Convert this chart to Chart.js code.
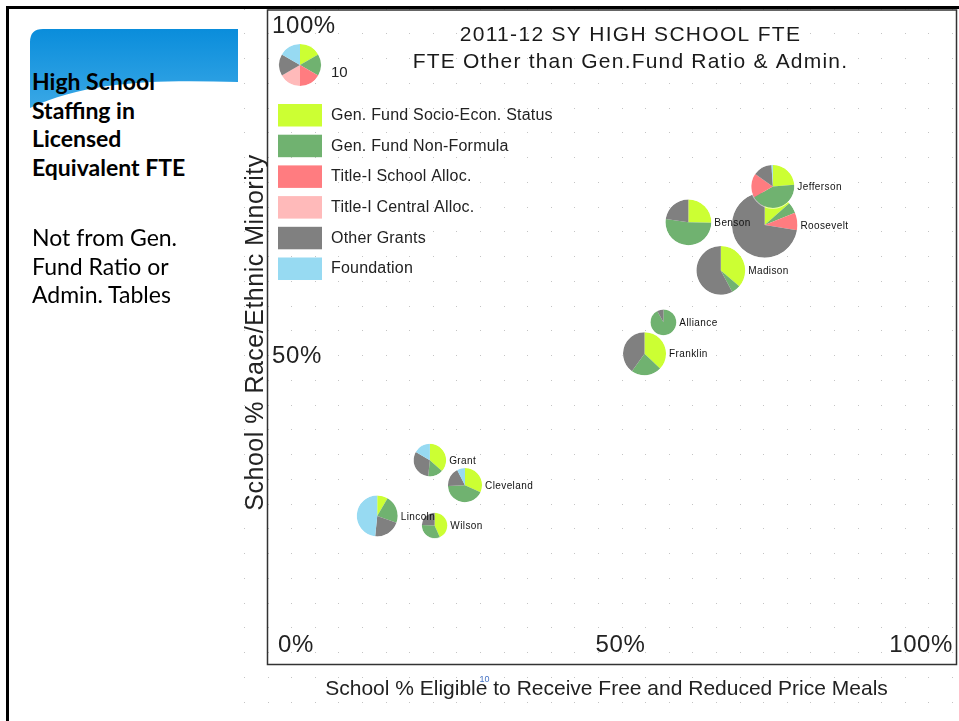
<!DOCTYPE html>
<html>
<head>
<meta charset="utf-8">
<script src="https://cdn.jsdelivr.net/npm/chart.js@4.4.0/dist/chart.umd.min.js"></script>
<style>
  html, body { margin: 0; padding: 0; background: #fff; }
  body { width: 959px; height: 721px; position: relative; overflow: hidden; }
  #chart { position: absolute; left: 0; top: 0; }
  #frame { position: absolute; left: 6px; top: 6px; width: 980px; height: 740px;
           border-left: 3px solid #000; border-top: 3px solid #000; }
  #panel { position: absolute; left: 9px; top: 9px; width: 231px; height: 712px; background: #fff; }
  #banner { position: absolute; left: 0; top: 0; }
  .side { position: absolute; left: 32px; font-family: Lato, "Open Sans", sans-serif;
          font-size: 23px; line-height: 28.7px; color: #000; }
  #heading { top: 67px; font-weight: bold; }
  #note { top: 223px; }
</style>
</head>
<body>
<canvas id="chart" width="959" height="721"></canvas>
<div id="panel"></div>
<svg id="banner" width="240" height="120">
  <defs>
    <linearGradient id="bg" x1="0" y1="0" x2="0" y2="1">
      <stop offset="0" stop-color="#0a8ddb"/>
      <stop offset="1" stop-color="#3aa8e6"/>
    </linearGradient>
  </defs>
  <path d="M30,42 Q30,29 43,29 L238,29 L238,82 C160,80 90,80 30,108 Z" fill="url(#bg)"/>
</svg>
<div id="heading" class="side">High School<br>Staffing in<br>Licensed<br>Equivalent FTE</div>
<div id="note" class="side">Not from Gen.<br>Fund Ratio or<br>Admin. Tables</div>
<div id="frame"></div>
<script>
// schools, in drawing order (Jefferson sits on top of Roosevelt)
const schools = ['Lincoln', 'Wilson', 'Grant', 'Cleveland', 'Franklin', 'Alliance', 'Madison', 'Benson', 'Roosevelt', 'Jefferson'];
// school % eligible for free/reduced meals (x) and % race/ethnic minority (y)
const frlPct = [14.7, 23.2, 22.5, 27.7, 54.3, 57.1, 65.6, 60.8, 72.1, 73.3];
const minorityPct = [21.7, 20.2, 30.4, 26.5, 47.0, 51.9, 60.0, 67.5, 67.1, 73.1];

// FTE by funding source
const fundSources = ['Gen. Fund Socio-Econ. Status', 'Gen. Fund Non-Formula', 'Title-I School Alloc.',
                     'Title-I Central Alloc.', 'Other Grants', 'Foundation'];
const fteSocioEcon    = [0.8, 1.6, 2.2, 2.1, 3.9, 0.0, 4.9, 3.0, 3.3, 2.5];
const fteNonFormula   = [2.1, 1.2, 0.9, 2.8, 2.4, 3.5, 0.8, 6.2, 1.3, 4.5];
const fteTitleISchool = [0.0, 0.0, 0.0, 0.0, 0.0, 0.0, 0.0, 0.0, 2.1, 1.9];
const fteTitleICentral = [0.0, 0.0, 0.0, 0.0, 0.0, 0.0, 0.0, 0.0, 0.0, 0.0];
const fteOtherGrants  = [2.0, 0.9, 1.9, 1.2, 4.2, 0.3, 7.8, 2.7, 17.6, 1.5];
const fteFoundation   = [4.6, 0.0, 1.0, 0.5, 0.0, 0.0, 0.0, 0.0, 0.0, 0.1];

const xTickValues = [0, 50, 100];
const xTickLabels = ['0%', '50%', '100%'];
const yTickValues = [50, 100];
const yTickLabels = ['50%', '100%'];
const keyFte = 10;

const series = [fteSocioEcon, fteNonFormula, fteTitleISchool, fteTitleICentral, fteOtherGrants, fteFoundation];
const colors = ['#ccff33', '#70b270', '#ff7c80', '#ffbaba', '#808080', '#97daf2'];
const totals = schools.map((s, i) => series.reduce((a, arr) => a + arr[i], 0));
const pxPerSqrtFte = 21 / Math.sqrt(10);

const FONT = '"Liberation Sans", Arial, sans-serif';

function drawPie(ctx, cx, cy, r, values) {
    const total = values.reduce((a, b) => a + b, 0);
    let a = -Math.PI / 2;
    values.forEach((v, k) => {
        if (!v) return;
        const da = v / total * Math.PI * 2;
        ctx.beginPath();
        ctx.moveTo(cx, cy);
        ctx.arc(cx, cy, r, a, a + da);
        ctx.closePath();
        ctx.fillStyle = colors[k];
        ctx.fill();
        a += da;
    });
    ctx.beginPath();
    ctx.arc(cx, cy, r + 0.5, 0, Math.PI * 2);
    ctx.strokeStyle = 'rgba(255,255,255,0.6)';
    ctx.lineWidth = 1;
    ctx.stroke();
}

function text(ctx, str, x, y, font, align, baseline, color, spacing) {
    ctx.font = font;
    ctx.textAlign = align;
    ctx.textBaseline = baseline;
    ctx.fillStyle = color || '#222';
    ctx.letterSpacing = (spacing || 0) + 'px';
    ctx.fillText(str, x, y);
    ctx.letterSpacing = '0px';
}

const piePlugin = {
    id: 'pieScatter',
    beforeDraw(chart) {
        // dotted slide grid
        const ctx = chart.ctx;
        ctx.save();
        ctx.fillStyle = '#c4c4c4';
        for (let x = 244; x < 959; x += 23.6) {
            for (let y = 8.5; y < 721; y += 24.75) {
                ctx.fillRect(Math.round(x), Math.round(y), 1, 1);
            }
        }
        ctx.restore();
    },
    afterDatasetsDraw(chart) {
        const ctx = chart.ctx;
        const meta = chart.getDatasetMeta(0);
        ctx.save();
        meta.data.forEach((pt, i) => {
            drawPie(ctx, pt.x, pt.y, pt.options.radius, series.map(s => s[i]));
        });
        meta.data.forEach((pt, i) => {
            text(ctx, schools[i], pt.x + pt.options.radius + 3, pt.y + 1,
                 '10px ' + FONT, 'left', 'middle', '#111', 0.4);
        });
        ctx.restore();
    },
    afterDraw(chart) {
        const ctx = chart.ctx;
        const xs = chart.scales.x, ys = chart.scales.y;
        const area = chart.chartArea;
        ctx.save();

        // plot frame
        ctx.strokeStyle = '#333';
        ctx.lineWidth = 1.5;
        ctx.strokeRect(area.left - 10.5, area.top - 4, area.right - area.left + 14, area.bottom - area.top + 13.5);

        // tick labels
        const tickFont = '24px ' + FONT;
        xTickValues.forEach((v, k) => {
            const px = xs.getPixelForValue(v);
            const align = k === 0 ? 'left' : (k === xTickValues.length - 1 ? 'right' : 'center');
            text(ctx, xTickLabels[k], px + (align === 'center' ? 5 : 0), area.bottom - 3, tickFont, align, 'alphabetic', '#222', 0.6);
        });
        yTickValues.forEach((v, k) => {
            const py = ys.getPixelForValue(v);
            const top = k === yTickValues.length - 1;
            text(ctx, yTickLabels[k], area.left - 6, top ? py + 19 : py + 28, tickFont, 'left', 'alphabetic', '#222', 0.6);
        });

        // title
        const cx = (area.left + area.right) / 2 + 15;
        text(ctx, '2011-12 SY HIGH SCHOOL FTE', cx, 40.5, '21px ' + FONT, 'center', 'alphabetic', '#1a1a1a', 1.3);
        text(ctx, 'FTE Other than Gen.Fund Ratio & Admin.', cx, 68, '21px ' + FONT, 'center', 'alphabetic', '#1a1a1a', 1.2);

        // size key
        const keyX = area.left + 22, keyY = 65;
        drawPie(ctx, keyX, keyY, pxPerSqrtFte * Math.sqrt(keyFte), [1, 1, 1, 1, 1, 1]);
        text(ctx, String(keyFte), area.left + 53, 76.5, '15px ' + FONT, 'left', 'alphabetic', '#222');

        // colour legend
        fundSources.forEach((name, k) => {
            const y = 104 + k * 30.7;
            ctx.fillStyle = colors[k];
            ctx.fillRect(area.left, y, 44, 22.5);
            text(ctx, name, area.left + 53, y + 11.5, '16px ' + FONT, 'left', 'middle', '#222', 0.2);
        });

        // axis titles
        ctx.save();
        ctx.translate(263, 332.5);
        ctx.rotate(-Math.PI / 2);
        text(ctx, 'School % Race/Ethnic Minority', 0, 0, '25px ' + FONT, 'center', 'alphabetic', '#222', 0.5);
        ctx.restore();
        text(ctx, 'School % Eligible to Receive Free and Reduced Price Meals', 606.5, 695, '21px ' + FONT, 'center', 'alphabetic', '#222');

        // slide number
        text(ctx, '10', 484.5, 682, '9px ' + FONT, 'center', 'alphabetic', '#4472c4');
        ctx.restore();
    }
};

const ctx = document.getElementById('chart').getContext('2d');
new Chart(ctx, {
    type: 'bubble',
    data: {
        datasets: [{
            label: 'High schools',
            data: schools.map((s, i) => ({
                x: frlPct[i],
                y: minorityPct[i],
                r: pxPerSqrtFte * Math.sqrt(totals[i])
            })),
            backgroundColor: 'rgba(0,0,0,0)',
            borderWidth: 0
        }]
    },
    options: {
        responsive: false,
        animation: false,
        events: [],
        layout: { autoPadding: false, padding: { left: 278, top: 14, right: 6, bottom: 66 } },
        scales: {
            x: { type: 'linear', min: 0, max: 100, display: false },
            y: { type: 'linear', min: 0, max: 100, display: false }
        },
        plugins: {
            legend: { display: false },
            tooltip: { enabled: false }
        }
    },
    plugins: [piePlugin]
});
</script>
</body>
</html>
